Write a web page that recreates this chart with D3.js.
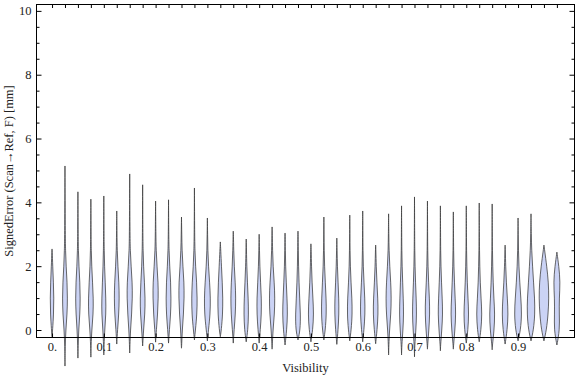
<!DOCTYPE html>
<html>
<head>
<meta charset="utf-8">
<script src="https://cdn.jsdelivr.net/npm/d3@7"></script>
<style>
	body { margin: 0; background: #fff; }
	text { font-family: "Liberation Serif", "DejaVu Serif", serif; }
</style>
</head>
<body>
<script>
/*
Violin chart of signed error per visibility bin.
*/

// violin centres (visibility bins)
var visibility = [0, 0.025, 0.05, 0.075, 0.1, 0.125, 0.15, 0.175, 0.2, 0.225,
	0.25, 0.275, 0.3, 0.325, 0.35, 0.375, 0.4, 0.425, 0.45, 0.475,
	0.5, 0.525, 0.55, 0.575, 0.6, 0.625, 0.65, 0.675, 0.7, 0.725,
	0.75, 0.775, 0.8, 0.825, 0.85, 0.875, 0.9, 0.925, 0.95, 0.975];

// smallest and largest signed error [mm] in each bin
var errMin = [-0.21, -1.13, -0.88, -0.85, -0.78, -0.44, -0.72, -0.5, -0.38, -0.41,
	-0.57, -0.31, -0.34, -0.21, -0.41, -0.37, -0.41, -0.6, -0.47, -0.31,
	-0.37, -0.31, -0.45, -0.34, -0.37, -0.43, -0.78, -0.78, -0.84, -0.6,
	-0.65, -0.6, -0.41, -0.37, -0.62, -0.44, -0.34, -0.34, -0.34, -0.47];
var errMax = [2.54, 5.14, 4.33, 4.1, 4.2, 3.73, 4.89, 4.55, 4.04, 4.08,
	3.54, 4.45, 3.51, 2.76, 3.1, 2.85, 3.0, 3.23, 3.04, 3.1,
	2.7, 3.54, 2.88, 3.6, 3.73, 2.66, 3.64, 3.89, 4.17, 4.04,
	3.89, 3.7, 3.89, 3.98, 3.95, 2.66, 3.51, 3.64, 2.66, 2.44];

var levels = [-0.5, 0, 0.5, 1, 1.5, 2, 2.5, 3];

// relative density at each level (only levels inside [min, max] are used)
var density = [
	[0, 0.10, 0.28, 0.33, 0.25, 0.12, 0.03, 0],
	[0.04, 0.15, 0.38, 0.45, 0.38, 0.20, 0.10, 0.05],
	[0.04, 0.14, 0.35, 0.42, 0.35, 0.18, 0.08, 0.04],
	[0.04, 0.16, 0.42, 0.44, 0.30, 0.15, 0.07, 0.04],
	[0.04, 0.16, 0.38, 0.36, 0.25, 0.13, 0.07, 0.04],
	[0.03, 0.14, 0.36, 0.45, 0.38, 0.20, 0.08, 0.04],
	[0.04, 0.14, 0.35, 0.48, 0.45, 0.25, 0.10, 0.05],
	[0.03, 0.16, 0.40, 0.45, 0.32, 0.16, 0.08, 0.04],
	[0, 0.14, 0.36, 0.48, 0.45, 0.25, 0.10, 0.05],
	[0, 0.15, 0.38, 0.45, 0.38, 0.20, 0.09, 0.04],
	[0.03, 0.14, 0.36, 0.48, 0.45, 0.25, 0.10, 0.05],
	[0, 0.18, 0.45, 0.50, 0.40, 0.20, 0.09, 0.04],
	[0, 0.20, 0.50, 0.55, 0.40, 0.20, 0.08, 0.04],
	[0, 0.18, 0.42, 0.45, 0.35, 0.20, 0.08, 0],
	[0, 0.15, 0.38, 0.45, 0.35, 0.18, 0.08, 0.03],
	[0, 0.30, 0.42, 0.35, 0.22, 0.10, 0.05, 0],
	[0, 0.20, 0.40, 0.40, 0.25, 0.12, 0.06, 0],
	[0.03, 0.16, 0.42, 0.50, 0.38, 0.18, 0.08, 0.04],
	[0, 0.30, 0.45, 0.35, 0.22, 0.10, 0.05, 0.03],
	[0, 0.40, 0.45, 0.30, 0.18, 0.10, 0.05, 0.03],
	[0, 0.32, 0.50, 0.35, 0.20, 0.10, 0.05, 0],
	[0, 0.25, 0.45, 0.40, 0.25, 0.12, 0.06, 0.03],
	[0, 0.22, 0.38, 0.35, 0.22, 0.10, 0.05, 0],
	[0, 0.25, 0.45, 0.38, 0.22, 0.10, 0.05, 0.03],
	[0, 0.22, 0.42, 0.38, 0.22, 0.10, 0.05, 0.03],
	[0, 0.25, 0.45, 0.38, 0.22, 0.10, 0.04, 0],
	[0.04, 0.16, 0.40, 0.48, 0.38, 0.20, 0.08, 0.04],
	[0.04, 0.25, 0.38, 0.30, 0.20, 0.10, 0.05, 0.03],
	[0.04, 0.25, 0.38, 0.30, 0.18, 0.10, 0.05, 0.03],
	[0.03, 0.25, 0.42, 0.35, 0.20, 0.10, 0.05, 0.03],
	[0.03, 0.25, 0.42, 0.32, 0.20, 0.10, 0.05, 0.03],
	[0.03, 0.28, 0.45, 0.32, 0.20, 0.10, 0.05, 0.03],
	[0, 0.30, 0.45, 0.30, 0.18, 0.10, 0.05, 0.03],
	[0, 0.32, 0.50, 0.32, 0.18, 0.10, 0.05, 0.03],
	[0.03, 0.35, 0.48, 0.30, 0.18, 0.10, 0.05, 0.03],
	[0, 0.38, 0.55, 0.40, 0.22, 0.10, 0.04, 0],
	[0, 0.45, 0.66, 0.50, 0.30, 0.15, 0.07, 0.03],
	[0, 0.45, 0.70, 0.65, 0.45, 0.28, 0.12, 0.05],
	[0, 0.45, 0.75, 0.88, 0.80, 0.50, 0.12, 0],
	[0, 0.50, 0.42, 0.42, 0.60, 0.35, 0, 0]
];

var yMajor = [0, 2, 4, 6, 8, 10];
var yMinor = [0.5, 1, 1.5, 2.5, 3, 3.5, 4.5, 5, 5.5, 6.5, 7, 7.5, 8.5, 9, 9.5];
var xLabels = [0, 0.1, 0.2, 0.3, 0.4, 0.5, 0.6, 0.7, 0.8, 0.9];

var w = 576, h = 377;
var frame = {left: 36.5, right: 574.5, top: 4.5, bottom: 337.5};

var svg = d3.select('body')
	.append('svg')
	.attr('width', w)
	.attr('height', h);

var x = d3.scaleLinear()
	.domain([-0.03, 1.009])
	.range([frame.left, frame.right]);
var y = d3.scaleLinear()
	.domain([-0.235, 10.2])
	.range([frame.bottom, frame.top]);
// relative density -> half width in px
var spread = d3.scaleLinear()
	.domain([0, 1])
	.range([0, 5.6]);

// violins
var gViolin = svg.append('g').attr('class', 'violins');
visibility.forEach(function(vis, i){
	var cx = x(vis);
	var pts = [{v: errMin[i], d: 0}];
	levels.forEach(function(lv, j){
		if (lv > errMin[i] && lv < errMax[i]) pts.push({v: lv, d: density[i][j]});
	});
	pts.push({v: errMax[i], d: 0});

	var area = d3.area()
		.curve(d3.curveBasis)
		.y(function(d){ return y(d.v); })
		.x0(function(d){ return cx - spread(d.d); })
		.x1(function(d){ return cx + spread(d.d); });

	gViolin.append('path')
		.datum(pts)
		.attr('d', area)
		.attr('fill', '#cbd3f5')
		.attr('stroke', '#3a3a3a')
		.attr('stroke-opacity', 0.85)
		.attr('stroke-width', 0.9);
});

// frame
svg.append('rect')
	.attr('x', frame.left)
	.attr('y', frame.top)
	.attr('width', frame.right - frame.left)
	.attr('height', frame.bottom - frame.top)
	.attr('fill', 'none')
	.attr('stroke', '#000')
	.attr('stroke-width', 1);

// ticks point inward, as in the source
var axLeft = svg.append('g')
	.attr('transform', 'translate(' + frame.left + ',0)')
	.call(d3.axisLeft(y).tickValues(yMajor).tickSizeInner(-5).tickSizeOuter(0).tickPadding(5));
var axLeftMinor = svg.append('g')
	.attr('transform', 'translate(' + frame.left + ',0)')
	.call(d3.axisLeft(y).tickValues(yMinor).tickSizeInner(-3).tickSizeOuter(0).tickFormat(''));
var axRight = svg.append('g')
	.attr('transform', 'translate(' + frame.right + ',0)')
	.call(d3.axisRight(y).tickValues(yMajor).tickSizeInner(-5).tickSizeOuter(0).tickFormat(''));
var axRightMinor = svg.append('g')
	.attr('transform', 'translate(' + frame.right + ',0)')
	.call(d3.axisRight(y).tickValues(yMinor).tickSizeInner(-3).tickSizeOuter(0).tickFormat(''));
var axTop = svg.append('g')
	.attr('transform', 'translate(0,' + frame.top + ')')
	.call(d3.axisTop(x).tickValues(visibility).tickSizeInner(-3.5).tickSizeOuter(0).tickFormat(''));
var axBottom = svg.append('g')
	.attr('transform', 'translate(0,' + frame.bottom + ')')
	.call(d3.axisBottom(x).tickValues(xLabels).tickSizeInner(-4).tickSizeOuter(0).tickPadding(5)
		.tickFormat(function(d){ return d === 0 ? '0.' : d3.format('.1f')(d); }));

[axLeft, axLeftMinor, axRight, axRightMinor, axTop, axBottom].forEach(function(g){
	g.select('.domain').remove();
	g.attr('font-family', '"Liberation Serif", serif').attr('font-size', 12.5);
	g.selectAll('.tick line').attr('stroke', '#000');
	g.selectAll('.tick text').attr('fill', '#222');
});

// axis titles
svg.append('text')
	.attr('x', (frame.left + frame.right) / 2)
	.attr('y', 372)
	.attr('text-anchor', 'middle')
	.style('font-size', '12.5px')
	.attr('fill', '#222')
	.text('Visibility');

svg.append('text')
	.attr('transform', 'translate(12.5,' + ((frame.top + frame.bottom) / 2) + ') rotate(-90)')
	.attr('text-anchor', 'middle')
	.style('font-size', '12.5px')
	.attr('fill', '#222')
	.text('SignedError (Scan\u2192Ref, F) [mm]');
</script>
</body>
</html>
